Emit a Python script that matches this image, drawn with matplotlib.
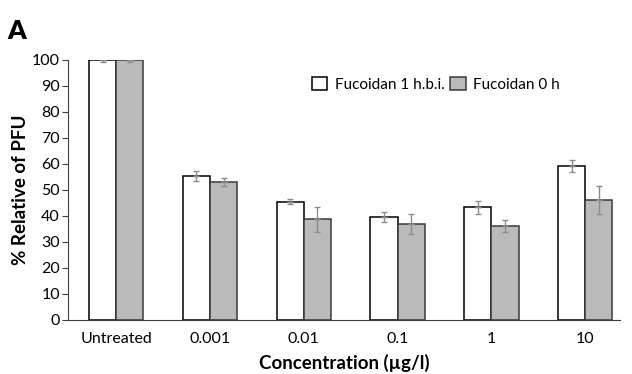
import matplotlib
matplotlib.use("Agg")
import matplotlib.pyplot as plt
import numpy as np

plt.rcParams['font.family'] = ['Lato', 'DejaVu Sans']

categories = ["Untreated", "0.001", "0.01", "0.1", "1", "10"]
white_vals = [100, 55.3, 45.5, 39.6, 43.3, 59.3]
white_err = [0.8, 1.9, 0.9, 1.8, 2.5, 2.2]
grey_vals = [100, 53.1, 38.8, 36.8, 36.2, 46.0]
grey_err = [0.8, 1.5, 4.8, 3.8, 2.4, 5.4]
series_names = ["Fucoidan 1 h.b.i.", "Fucoidan 0 h"]

fig = plt.figure(figsize=(6.32, 3.74), dpi=100)
ax = fig.add_axes([0.108, 0.1444, 0.873, 0.6952])

x = np.arange(len(categories))
w = 0.29
err_kw = dict(ecolor="#8c8c8c", elinewidth=1.0, capsize=2.5, capthick=1.0)
ax.bar(x - w / 2, white_vals, w, yerr=[[0] * 6, white_err], color="white",
       edgecolor="black", linewidth=1.1, error_kw=err_kw, label=series_names[0])
ax.bar(x + w / 2, grey_vals, w, yerr=[[0] * 6, grey_err], color="#bababa",
       edgecolor="#3a3a3a", linewidth=1.1, error_kw=err_kw, label=series_names[1])
# lower half of the error bars sits inside the bars
ax.errorbar(x - w / 2, white_vals, yerr=[white_err, [0] * 6], fmt="none", **err_kw)
ax.errorbar(x + w / 2, grey_vals, yerr=[grey_err, [0] * 6], fmt="none", **err_kw)

ax.set_ylim(0, 100)
ax.set_xlim(-0.51, 5.37)
ax.set_yticks(range(0, 101, 10))
ax.set_xticks(x)
ax.set_xticklabels(categories, fontsize=11.5)
ax.tick_params(axis="y", labelsize=11.5, length=4, color="#404040", pad=2)
ax.tick_params(axis="x", length=0, pad=9)
for s in ["top", "right"]:
    ax.spines[s].set_visible(False)
for s in ["left", "bottom"]:
    ax.spines[s].set_color("#404040")

ax.set_ylabel("% Relative of PFU", fontsize=13.5, fontweight="bold", labelpad=2)
ax.set_xlabel("Concentration (µg/l)", fontsize=13.5, fontweight="bold", labelpad=5)

ax.legend(loc="upper left", bbox_to_anchor=(0.43, 0.96), ncol=2, frameon=False,
          fontsize=11, handlelength=1.0, handleheight=1.0, handletextpad=0.5,
          columnspacing=0.4, borderaxespad=0)

fig.text(0.012, 0.895, "A", fontsize=19, fontweight="heavy")

fig.savefig("out.png", dpi=100)
